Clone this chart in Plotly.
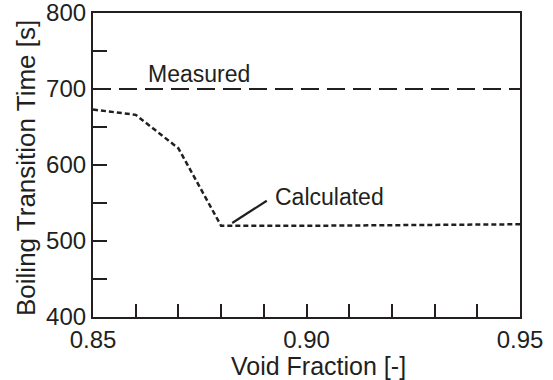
import plotly.graph_objects as go

# Data
void_fraction_calc = [0.85, 0.86, 0.87, 0.88, 0.90, 0.92, 0.95]
bt_time_calc = [673, 666, 622, 520, 520, 521, 522]
void_fraction_meas = [0.85, 0.95]
bt_time_meas = [700, 700]

x_title = "Void Fraction [-]"
y_title = "Boiling Transition Time [s]"

INK = "#231f20"
FONT = "Liberation Sans, Arial, sans-serif"

fig = go.Figure()
fig.add_trace(go.Scatter(
    x=void_fraction_meas, y=bt_time_meas, mode="lines", name="Measured",
    line=dict(color=INK, width=2.2, dash="18px,8px"), showlegend=False))
fig.add_trace(go.Scatter(
    x=void_fraction_calc, y=bt_time_calc, mode="lines", name="Calculated",
    line=dict(color=INK, width=2.5, dash="5px,3px"), showlegend=False))

# leader line for "Calculated" label
fig.add_shape(type="line", x0=0.8826, y0=523.7, x1=0.8907, y1=553,
              line=dict(color=INK, width=2.2))

fig.add_annotation(x=0.8749, y=720, text="Measured", showarrow=False,
                   xanchor="center", yanchor="middle",
                   font=dict(family=FONT, size=23, color=INK))
fig.add_annotation(x=0.9053, y=558, text="Calculated", showarrow=False,
                   xanchor="center", yanchor="middle",
                   font=dict(family=FONT, size=23, color=INK))

fig.add_annotation(xref="paper", yref="paper", x=0.527, y=-0.16,
                   xanchor="center", yanchor="middle",
                   text=x_title, showarrow=False,
                   font=dict(family=FONT, size=25, color=INK))
fig.add_annotation(xref="paper", yref="paper", x=-0.157, y=0.49,
                   xanchor="center", yanchor="middle",
                   text=y_title, showarrow=False, textangle=-90,
                   font=dict(family=FONT, size=26, color=INK))

axis_common = dict(showgrid=False, zeroline=False, showline=True, linecolor=INK,
                   linewidth=2.2, mirror=True, ticks="inside", tickcolor=INK,
                   tickwidth=2.2, ticklabeloverflow="allow", automargin=False,
                   tickfont=dict(family=FONT, size=24, color=INK))

fig.update_xaxes(range=[0.85, 0.95], tickvals=[0.85, 0.90, 0.95],
                 ticktext=["0.85", "0.90", "0.95"], ticklen=13,
                 minor=dict(dtick=0.01, tick0=0.85, ticks="inside", ticklen=13,
                            tickwidth=2.2, tickcolor=INK),
                 **axis_common)
fig.update_yaxes(range=[400, 800], tickvals=[400, 500, 600, 700, 800], ticklen=14,
                 minor=dict(dtick=50, tick0=400, ticks="inside", ticklen=14,
                            tickwidth=2.2, tickcolor=INK),
                 **axis_common)

fig.update_layout(width=553, height=380, margin=dict(l=93, r=33, t=13, b=63),
                  plot_bgcolor="white", paper_bgcolor="white",
                  font=dict(family=FONT, color=INK))

fig.write_html("out.html")
